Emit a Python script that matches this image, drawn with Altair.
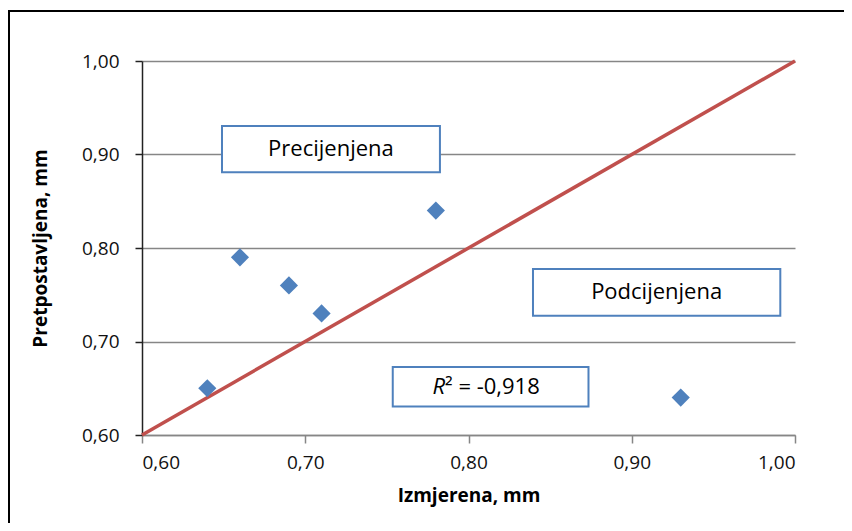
import altair as alt
import pandas as pd

# Data
izmjerena = [0.64, 0.66, 0.69, 0.71, 0.78, 0.93]
pretpostavljena = [0.65, 0.79, 0.76, 0.73, 0.84, 0.64]
ref_x = [0.60, 1.00]
ref_y = [0.60, 1.00]
tick_values = [0.60, 0.70, 0.80, 0.90, 1.00]

box_labels = ["Precijenjena", "Podcijenjena", ""]
box_x1 = [0.649, 0.8395, 0.7536]
box_x2 = [0.7825, 0.991, 0.8735]
box_y1 = [0.881, 0.7275, 0.6306]
box_y2 = [0.9305, 0.7775, 0.6727]

FONT = "Open Sans"
BLUE = "#4F81BD"
RED = "#C0504D"
GRID = "#868686"

pts = pd.DataFrame({"x": izmjerena, "y": pretpostavljena})
line_df = pd.DataFrame({"x": ref_x, "y": ref_y})
boxes = pd.DataFrame({
    "label": box_labels,
    "x1": box_x1, "x2": box_x2, "y1": box_y1, "y2": box_y2,
})
boxes["xc"] = (boxes["x1"] + boxes["x2"]) / 2
boxes["yc"] = (boxes["y1"] + boxes["y2"]) / 2

lab_expr = "replace(format(datum.value, '.2f'), '.', ',')"

xscale = alt.Scale(domain=[0.6, 1.0], nice=False, zero=False)
yscale = alt.Scale(domain=[0.6, 1.0], nice=False, zero=False)

xaxis = alt.Axis(
    values=tick_values, labelExpr=lab_expr, title="Izmjerena, mm",
    grid=False, domainColor=GRID, tickColor=GRID, tickSize=8,
    labelPadding=10, labelFont=FONT, labelFontSize=19, labelColor="#111111",
    titleFont=FONT, titleFontSize=19, titleFontWeight="bold", titleColor="#000000",
    titlePadding=14, domainWidth=1.5, tickWidth=1.5,
)
yaxis = alt.Axis(
    values=tick_values, labelExpr=lab_expr, title="Pretpostavljena, mm",
    grid=True, gridColor=GRID, gridWidth=1.5, domainColor="#222222",
    tickColor="#222222", tickSize=7, labelPadding=16, labelFont=FONT,
    labelFontSize=19, labelColor="#111111", titleFont=FONT, titleFontSize=19,
    titleFontWeight="bold", titleColor="#000000", titlePadding=31,
    domainWidth=1.5, tickWidth=1.5,
)

base_axes = alt.Chart(line_df).mark_point(opacity=0).encode(
    x=alt.X("x:Q", scale=xscale, axis=xaxis),
    y=alt.Y("y:Q", scale=yscale, axis=yaxis),
)

frame = alt.Chart(pd.DataFrame({"a": [0]})).mark_rect(
    fill=None, stroke="#000000", strokeWidth=2
).encode(
    x=alt.value(-133), x2=alt.value(720), y=alt.value(-50), y2=alt.value(520)
)

ref_line = alt.Chart(line_df).mark_line(color=RED, strokeWidth=3.5).encode(
    x=alt.X("x:Q", scale=xscale), y=alt.Y("y:Q", scale=yscale)
)

points = alt.Chart(pts).mark_point(
    shape="diamond", filled=True, color=BLUE, size=330, opacity=1
).encode(
    x=alt.X("x:Q", scale=xscale), y=alt.Y("y:Q", scale=yscale)
)

box_rects = alt.Chart(boxes).mark_rect(
    fill="white", stroke=BLUE, strokeWidth=2
).encode(
    x=alt.X("x1:Q", scale=xscale), x2="x2:Q",
    y=alt.Y("y1:Q", scale=yscale), y2="y2:Q",
)

box_text = alt.Chart(boxes[boxes["label"] != ""]).mark_text(
    font=FONT, fontSize=22, color="#000000", baseline="middle", align="center"
).encode(
    x=alt.X("xc:Q", scale=xscale), y=alt.Y("yc:Q", scale=yscale), text="label:N"
)

r2_df = pd.DataFrame({"x": [0.7850], "y": [0.6513], "a": ["R"], "b": ["² = -0,918"]})
r_text = alt.Chart(r2_df).mark_text(
    font=FONT, fontSize=22, fontStyle="italic", color="#000000",
    baseline="middle", align="right", dx=1
).encode(x=alt.X("x:Q", scale=xscale), y=alt.Y("y:Q", scale=yscale), text="a:N")
r_rest = alt.Chart(r2_df).mark_text(
    font=FONT, fontSize=22, color="#000000", baseline="middle", align="left", dx=1
).encode(x=alt.X("x:Q", scale=xscale), y=alt.Y("y:Q", scale=yscale), text="b:N")

chart = alt.layer(
    frame, base_axes, ref_line, points, box_rects, box_text, r_text, r_rest
).properties(
    width=653, height=374,
    autosize=alt.AutoSizeParams(type="none"),
    padding={"left": 134, "top": 53, "right": 49, "bottom": 88},
    background="white",
).configure_view(stroke=None)

chart.save("out.html", embed_options={"renderer": "svg", "actions": False})
